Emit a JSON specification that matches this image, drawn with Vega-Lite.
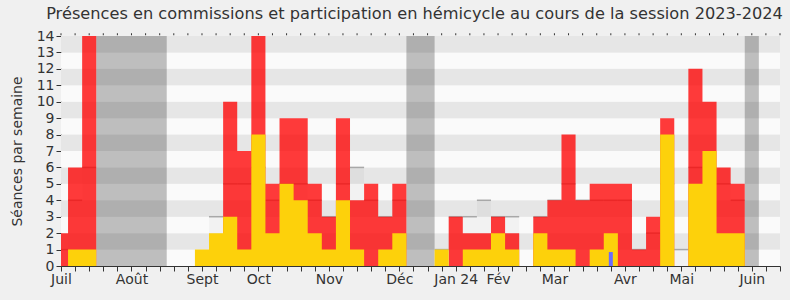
{
  "$schema": "https://vega.github.io/schema/vega-lite/v6.json",
  "width": 719,
  "height": 230,
  "autosize": {"type": "none"},
  "padding": {"left": 61, "top": 36, "right": 10, "bottom": 34},
  "background": "#f0f0f0",
  "config": {
    "view": {"stroke": null},
    "font": "DejaVu Sans",
    "axis": {"zindex": 2, "domainColor": "#333333", "tickColor": "#333333", "labelColor": "#333333", "labelFont": "DejaVu Sans", "labelFontSize": 14, "grid": false, "labelOverlap": false}
  },
  "title": {
    "text": "Présences en commissions et participation en hémicycle au cours de la session 2023-2024",
    "fontSize": 16.2,
    "fontWeight": "normal",
    "color": "#333333",
    "font": "DejaVu Sans",
    "anchor": "middle",
    "dx": -6,
    "offset": 7
  },
  "datasets": {
    "weeks": [
      {"w": 0, "red": 2, "yel": 0, "med": 1},
      {"w": 1, "red": 6, "yel": 1, "med": 4},
      {"w": 2, "red": 14, "yel": 1, "med": 6},
      {"w": 3, "red": 0, "yel": 0, "med": 0},
      {"w": 4, "red": 0, "yel": 0, "med": 0},
      {"w": 5, "red": 0, "yel": 0, "med": 0},
      {"w": 6, "red": 0, "yel": 0, "med": 0},
      {"w": 7, "red": 0, "yel": 0, "med": 0},
      {"w": 8, "red": 0, "yel": 0, "med": 0},
      {"w": 9, "red": 0, "yel": 0, "med": 0},
      {"w": 10, "red": 0, "yel": 1, "med": 0},
      {"w": 11, "red": 0, "yel": 2, "med": 3},
      {"w": 12, "red": 10, "yel": 3, "med": 5},
      {"w": 13, "red": 7, "yel": 1, "med": 5},
      {"w": 14, "red": 14, "yel": 8, "med": 6},
      {"w": 15, "red": 5, "yel": 2, "med": 4},
      {"w": 16, "red": 9, "yel": 5, "med": 5},
      {"w": 17, "red": 9, "yel": 4, "med": 5},
      {"w": 18, "red": 5, "yel": 2, "med": 4},
      {"w": 19, "red": 3, "yel": 1, "med": 3},
      {"w": 20, "red": 9, "yel": 4, "med": 5},
      {"w": 21, "red": 4, "yel": 1, "med": 6},
      {"w": 22, "red": 5, "yel": 0, "med": 4},
      {"w": 23, "red": 3, "yel": 1, "med": 3},
      {"w": 24, "red": 5, "yel": 2, "med": 4},
      {"w": 25, "red": 0, "yel": 0, "med": 0},
      {"w": 26, "red": 0, "yel": 0, "med": 0},
      {"w": 27, "red": 0, "yel": 1, "med": 1},
      {"w": 28, "red": 3, "yel": 0, "med": 3},
      {"w": 29, "red": 2, "yel": 1, "med": 3},
      {"w": 30, "red": 2, "yel": 1, "med": 4},
      {"w": 31, "red": 3, "yel": 2, "med": 3},
      {"w": 32, "red": 2, "yel": 1, "med": 3},
      {"w": 33, "red": 0, "yel": 0, "med": 0},
      {"w": 34, "red": 3, "yel": 2, "med": 3},
      {"w": 35, "red": 4, "yel": 1, "med": 4},
      {"w": 36, "red": 8, "yel": 1, "med": 5},
      {"w": 37, "red": 4, "yel": 0, "med": 4},
      {"w": 38, "red": 5, "yel": 1, "med": 4},
      {"w": 39, "red": 5, "yel": 2, "med": 4},
      {"w": 40, "red": 5, "yel": 0, "med": 4},
      {"w": 41, "red": 1, "yel": 0, "med": 1},
      {"w": 42, "red": 3, "yel": 0, "med": 2},
      {"w": 43, "red": 9, "yel": 8, "med": 5},
      {"w": 44, "red": 0, "yel": 0, "med": 1},
      {"w": 45, "red": 12, "yel": 5, "med": 6},
      {"w": 46, "red": 10, "yel": 7, "med": 5},
      {"w": 47, "red": 6, "yel": 2, "med": 5},
      {"w": 48, "red": 5, "yel": 2, "med": 4},
      {"w": 49, "red": 0, "yel": 0, "med": 0},
      {"w": 50, "red": 0, "yel": 0, "med": 0},
      {"w": 51, "red": 0, "yel": 0, "med": 0}
    ],
    "stripes": [
      {"lo": 0, "hi": 1, "c": "a"}, {"lo": 1, "hi": 2, "c": "b"}, {"lo": 2, "hi": 3, "c": "a"}, {"lo": 3, "hi": 4, "c": "b"},
      {"lo": 4, "hi": 5, "c": "a"}, {"lo": 5, "hi": 6, "c": "b"}, {"lo": 6, "hi": 7, "c": "a"}, {"lo": 7, "hi": 8, "c": "b"},
      {"lo": 8, "hi": 9, "c": "a"}, {"lo": 9, "hi": 10, "c": "b"}, {"lo": 10, "hi": 11, "c": "a"}, {"lo": 11, "hi": 12, "c": "b"},
      {"lo": 12, "hi": 13, "c": "a"}, {"lo": 13, "hi": 14, "c": "b"}
    ],
    "vacances": [
      {"v0": 2.5, "v1": 7.5},
      {"v0": 24.5, "v1": 26.5},
      {"v0": 48.5, "v1": 49.5}
    ],
    "questions": [
      {"w": 39, "q": 0.85}
    ]
  },
  "layer": [
    {
      "data": {"name": "stripes"},
      "mark": {"type": "rect"},
      "encoding": {
        "x": {"datum": 0, "type": "quantitative", "scale": {"domain": [0, 51], "nice": false, "zero": false, "padding": 0},
          "axis": {"orient": "bottom", "title": null, "values": [0,1,2,3,4,5,6,7,8,9,10,11,12,13,14,15,16,17,18,19,20,21,22,23,24,25,26,27,28,29,30,31,32,33,34,35,36,37,38,39,40,41,42,43,44,45,46,47,48,49,50,51], "labelExpr": "datum.value == 0 ? 'Juil' : datum.value == 5 ? 'Août' : datum.value == 10 ? 'Sept' : datum.value == 14 ? 'Oct' : datum.value == 19 ? 'Nov' : datum.value == 24 ? 'Déc' : datum.value == 28 ? 'Jan 24' : datum.value == 31 ? 'Fév' : datum.value == 35 ? 'Mar' : datum.value == 40 ? 'Avr' : datum.value == 44 ? 'Mai' : datum.value == 49 ? 'Juin' : ''", "labelOverlap": false, "labelFlush": false, "labelBound": false, "labelPadding": 1, "tickSize": 5}},
        "x2": {"datum": 51},
        "y": {"field": "lo", "type": "quantitative", "scale": {"domain": [0, 14], "nice": false, "zero": true, "padding": 0},
          "axis": {"orient": "left", "title": "Séances par semaine", "values": [0,1,2,3,4,5,6,7,8,9,10,11,12,13,14], "labelOverlap": false, "labelPadding": 2, "tickSize": 5, "titleFontSize": 14, "titleFontWeight": "normal", "titleColor": "#333333", "titleFont": "DejaVu Sans", "titlePadding": 12}},
        "y2": {"field": "hi"},
        "color": {"field": "c", "type": "nominal", "scale": {"domain": ["a", "b"], "range": ["#fafafa", "#e6e6e6"]}, "legend": null}
      }
    },
    {
      "data": {"name": "vacances"},
      "mark": {"type": "rect", "color": "#000000", "opacity": 0.24},
      "encoding": {
        "x": {"field": "v0", "type": "quantitative",
          "axis": {"orient": "bottom", "title": null, "values": [0,1,2,3,4,5,6,7,8,9,10,11,12,13,14,15,16,17,18,19,20,21,22,23,24,25,26,27,28,29,30,31,32,33,34,35,36,37,38,39,40,41,42,43,44,45,46,47,48,49,50,51], "labelExpr": "datum.value == 0 ? 'Juil' : datum.value == 5 ? 'Août' : datum.value == 10 ? 'Sept' : datum.value == 14 ? 'Oct' : datum.value == 19 ? 'Nov' : datum.value == 24 ? 'Déc' : datum.value == 28 ? 'Jan 24' : datum.value == 31 ? 'Fév' : datum.value == 35 ? 'Mar' : datum.value == 40 ? 'Avr' : datum.value == 44 ? 'Mai' : datum.value == 49 ? 'Juin' : ''", "labelOverlap": false, "labelFlush": false, "labelBound": false, "labelPadding": 1, "tickSize": 5}},
        "x2": {"field": "v1"},
        "y": {"datum": 0, "type": "quantitative",
          "axis": {"orient": "left", "title": "Séances par semaine", "values": [0,1,2,3,4,5,6,7,8,9,10,11,12,13,14], "labelOverlap": false, "labelPadding": 2, "tickSize": 5, "titleFontSize": 14, "titleFontWeight": "normal", "titleColor": "#333333", "titleFont": "DejaVu Sans", "titlePadding": 12}},
        "y2": {"datum": 14}
      }
    },
    {
      "data": {"name": "weeks"},
      "mark": {"type": "area", "interpolate": "step", "color": "#000000", "opacity": 0.03, "clip": true},
      "encoding": {
        "x": {"field": "w", "type": "quantitative",
          "axis": {"orient": "bottom", "title": null, "values": [0,1,2,3,4,5,6,7,8,9,10,11,12,13,14,15,16,17,18,19,20,21,22,23,24,25,26,27,28,29,30,31,32,33,34,35,36,37,38,39,40,41,42,43,44,45,46,47,48,49,50,51], "labelExpr": "datum.value == 0 ? 'Juil' : datum.value == 5 ? 'Août' : datum.value == 10 ? 'Sept' : datum.value == 14 ? 'Oct' : datum.value == 19 ? 'Nov' : datum.value == 24 ? 'Déc' : datum.value == 28 ? 'Jan 24' : datum.value == 31 ? 'Fév' : datum.value == 35 ? 'Mar' : datum.value == 40 ? 'Avr' : datum.value == 44 ? 'Mai' : datum.value == 49 ? 'Juin' : ''", "labelOverlap": false, "labelFlush": false, "labelBound": false, "labelPadding": 1, "tickSize": 5}},
        "y": {"field": "med", "type": "quantitative", "stack": null,
          "axis": {"orient": "left", "title": "Séances par semaine", "values": [0,1,2,3,4,5,6,7,8,9,10,11,12,13,14], "labelOverlap": false, "labelPadding": 2, "tickSize": 5, "titleFontSize": 14, "titleFontWeight": "normal", "titleColor": "#333333", "titleFont": "DejaVu Sans", "titlePadding": 12}}
      }
    },
    {
      "data": {"name": "weeks"},
      "transform": [{"filter": "datum.med > 0"}],
      "mark": {"type": "tick", "orient": "horizontal", "size": 14.1, "thickness": 1.5, "color": "#a8a8a8", "opacity": 1, "clip": true},
      "encoding": {
        "x": {"field": "w", "type": "quantitative",
          "axis": {"orient": "bottom", "title": null, "values": [0,1,2,3,4,5,6,7,8,9,10,11,12,13,14,15,16,17,18,19,20,21,22,23,24,25,26,27,28,29,30,31,32,33,34,35,36,37,38,39,40,41,42,43,44,45,46,47,48,49,50,51], "labelExpr": "datum.value == 0 ? 'Juil' : datum.value == 5 ? 'Août' : datum.value == 10 ? 'Sept' : datum.value == 14 ? 'Oct' : datum.value == 19 ? 'Nov' : datum.value == 24 ? 'Déc' : datum.value == 28 ? 'Jan 24' : datum.value == 31 ? 'Fév' : datum.value == 35 ? 'Mar' : datum.value == 40 ? 'Avr' : datum.value == 44 ? 'Mai' : datum.value == 49 ? 'Juin' : ''", "labelOverlap": false, "labelFlush": false, "labelBound": false, "labelPadding": 1, "tickSize": 5}},
        "y": {"field": "med", "type": "quantitative",
          "axis": {"orient": "left", "title": "Séances par semaine", "values": [0,1,2,3,4,5,6,7,8,9,10,11,12,13,14], "labelOverlap": false, "labelPadding": 2, "tickSize": 5, "titleFontSize": 14, "titleFontWeight": "normal", "titleColor": "#333333", "titleFont": "DejaVu Sans", "titlePadding": 12}}
      }
    },
    {
      "data": {"name": "weeks"},
      "mark": {"type": "area", "interpolate": "step", "color": "#ff0000", "opacity": 0.77, "clip": true},
      "encoding": {
        "x": {"field": "w", "type": "quantitative",
          "axis": {"orient": "bottom", "title": null, "values": [0,1,2,3,4,5,6,7,8,9,10,11,12,13,14,15,16,17,18,19,20,21,22,23,24,25,26,27,28,29,30,31,32,33,34,35,36,37,38,39,40,41,42,43,44,45,46,47,48,49,50,51], "labelExpr": "datum.value == 0 ? 'Juil' : datum.value == 5 ? 'Août' : datum.value == 10 ? 'Sept' : datum.value == 14 ? 'Oct' : datum.value == 19 ? 'Nov' : datum.value == 24 ? 'Déc' : datum.value == 28 ? 'Jan 24' : datum.value == 31 ? 'Fév' : datum.value == 35 ? 'Mar' : datum.value == 40 ? 'Avr' : datum.value == 44 ? 'Mai' : datum.value == 49 ? 'Juin' : ''", "labelOverlap": false, "labelFlush": false, "labelBound": false, "labelPadding": 1, "tickSize": 5}},
        "y": {"field": "red", "type": "quantitative", "stack": null,
          "axis": {"orient": "left", "title": "Séances par semaine", "values": [0,1,2,3,4,5,6,7,8,9,10,11,12,13,14], "labelOverlap": false, "labelPadding": 2, "tickSize": 5, "titleFontSize": 14, "titleFontWeight": "normal", "titleColor": "#333333", "titleFont": "DejaVu Sans", "titlePadding": 12}}
      }
    },
    {
      "data": {"name": "weeks"},
      "mark": {"type": "area", "interpolate": "step", "color": "#fdd10b", "opacity": 1, "clip": true},
      "encoding": {
        "x": {"field": "w", "type": "quantitative",
          "axis": {"orient": "bottom", "title": null, "values": [0,1,2,3,4,5,6,7,8,9,10,11,12,13,14,15,16,17,18,19,20,21,22,23,24,25,26,27,28,29,30,31,32,33,34,35,36,37,38,39,40,41,42,43,44,45,46,47,48,49,50,51], "labelExpr": "datum.value == 0 ? 'Juil' : datum.value == 5 ? 'Août' : datum.value == 10 ? 'Sept' : datum.value == 14 ? 'Oct' : datum.value == 19 ? 'Nov' : datum.value == 24 ? 'Déc' : datum.value == 28 ? 'Jan 24' : datum.value == 31 ? 'Fév' : datum.value == 35 ? 'Mar' : datum.value == 40 ? 'Avr' : datum.value == 44 ? 'Mai' : datum.value == 49 ? 'Juin' : ''", "labelOverlap": false, "labelFlush": false, "labelBound": false, "labelPadding": 1, "tickSize": 5}},
        "y": {"field": "yel", "type": "quantitative", "stack": null,
          "axis": {"orient": "left", "title": "Séances par semaine", "values": [0,1,2,3,4,5,6,7,8,9,10,11,12,13,14], "labelOverlap": false, "labelPadding": 2, "tickSize": 5, "titleFontSize": 14, "titleFontWeight": "normal", "titleColor": "#333333", "titleFont": "DejaVu Sans", "titlePadding": 12}}
      }
    },
    {
      "data": {"name": "questions"},
      "mark": {"type": "bar", "color": "#6b6bff", "width": 4, "clip": true},
      "encoding": {
        "x": {"field": "w", "type": "quantitative",
          "axis": {"orient": "bottom", "title": null, "values": [0,1,2,3,4,5,6,7,8,9,10,11,12,13,14,15,16,17,18,19,20,21,22,23,24,25,26,27,28,29,30,31,32,33,34,35,36,37,38,39,40,41,42,43,44,45,46,47,48,49,50,51], "labelExpr": "datum.value == 0 ? 'Juil' : datum.value == 5 ? 'Août' : datum.value == 10 ? 'Sept' : datum.value == 14 ? 'Oct' : datum.value == 19 ? 'Nov' : datum.value == 24 ? 'Déc' : datum.value == 28 ? 'Jan 24' : datum.value == 31 ? 'Fév' : datum.value == 35 ? 'Mar' : datum.value == 40 ? 'Avr' : datum.value == 44 ? 'Mai' : datum.value == 49 ? 'Juin' : ''", "labelOverlap": false, "labelFlush": false, "labelBound": false, "labelPadding": 1, "tickSize": 5}},
        "y": {"field": "q", "type": "quantitative",
          "axis": {"orient": "left", "title": "Séances par semaine", "values": [0,1,2,3,4,5,6,7,8,9,10,11,12,13,14], "labelOverlap": false, "labelPadding": 2, "tickSize": 5, "titleFontSize": 14, "titleFontWeight": "normal", "titleColor": "#333333", "titleFont": "DejaVu Sans", "titlePadding": 12}}
      }
    },
    {
      "data": {"name": "weeks"},
      "mark": {"type": "tick", "orient": "vertical", "size": 2, "thickness": 1, "color": "#333333", "opacity": 1},
      "encoding": {
        "x": {"field": "w", "type": "quantitative",
          "axis": {"orient": "bottom", "title": null, "values": [0,1,2,3,4,5,6,7,8,9,10,11,12,13,14,15,16,17,18,19,20,21,22,23,24,25,26,27,28,29,30,31,32,33,34,35,36,37,38,39,40,41,42,43,44,45,46,47,48,49,50,51], "labelExpr": "datum.value == 0 ? 'Juil' : datum.value == 5 ? 'Août' : datum.value == 10 ? 'Sept' : datum.value == 14 ? 'Oct' : datum.value == 19 ? 'Nov' : datum.value == 24 ? 'Déc' : datum.value == 28 ? 'Jan 24' : datum.value == 31 ? 'Fév' : datum.value == 35 ? 'Mar' : datum.value == 40 ? 'Avr' : datum.value == 44 ? 'Mai' : datum.value == 49 ? 'Juin' : ''", "labelOverlap": false, "labelFlush": false, "labelBound": false, "labelPadding": 1, "tickSize": 5}},
        "y": {"datum": 14.1, "type": "quantitative",
          "axis": {"orient": "left", "title": "Séances par semaine", "values": [0,1,2,3,4,5,6,7,8,9,10,11,12,13,14], "labelOverlap": false, "labelPadding": 2, "tickSize": 5, "titleFontSize": 14, "titleFontWeight": "normal", "titleColor": "#333333", "titleFont": "DejaVu Sans", "titlePadding": 12}}
      }
    }
  ]
}
